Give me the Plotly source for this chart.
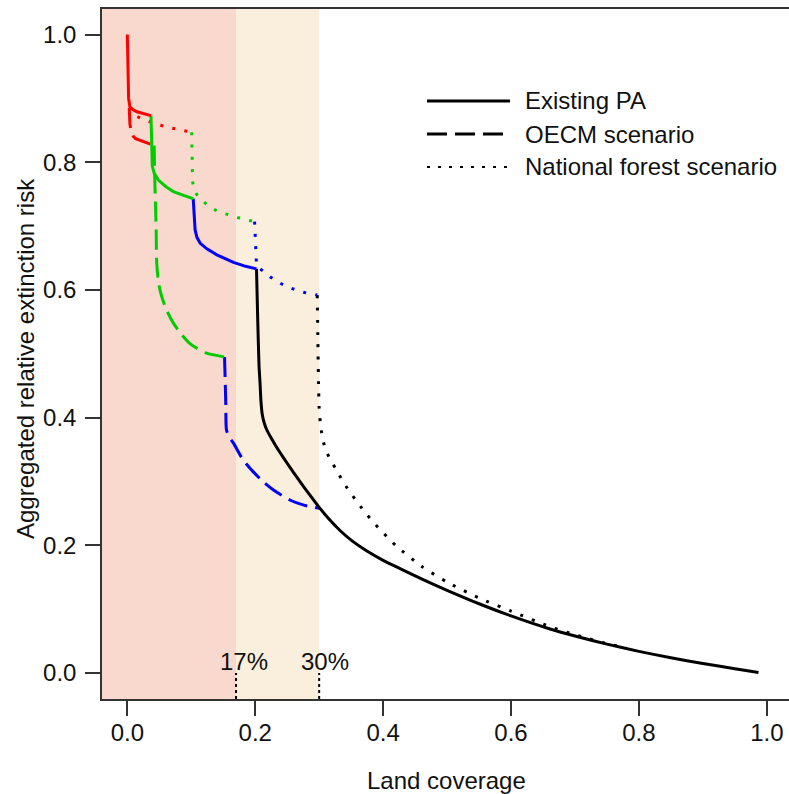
import plotly.graph_objects as go

# ---------------- data ----------------
red_solid_x = [0.0, 0.001, 0.002, 0.004, 0.008, 0.015, 0.025, 0.037]
red_solid_y = [1.0, 0.95, 0.90, 0.887, 0.883, 0.879, 0.876, 0.873]
red_dash_x = [0.003, 0.004, 0.006, 0.009, 0.013, 0.025, 0.042]
red_dash_y = [0.885, 0.86, 0.848, 0.841, 0.837, 0.832, 0.826]
red_dot_x = [0.003, 0.01, 0.025, 0.044, 0.0625, 0.081, 0.1007]
red_dot_y = [0.885, 0.874, 0.867, 0.86, 0.855, 0.851, 0.847]

green_solid_x = [0.037, 0.038, 0.038, 0.039, 0.042, 0.0485, 0.06, 0.072, 0.088, 0.103]
green_solid_y = [0.873, 0.84, 0.81, 0.794, 0.783, 0.772, 0.762, 0.754, 0.748, 0.743]
green_dash_x = [0.042, 0.043, 0.045, 0.046, 0.049, 0.054, 0.062, 0.072, 0.085, 0.098, 0.11, 0.124, 0.152]
green_dash_y = [0.826, 0.77, 0.70, 0.642, 0.61, 0.589, 0.567, 0.548, 0.53, 0.516, 0.508, 0.501, 0.495]
green_dot_x = [0.1007, 0.101, 0.102, 0.105, 0.111, 0.125, 0.142, 0.161, 0.18, 0.199]
green_dot_y = [0.847, 0.80, 0.77, 0.755, 0.746, 0.733, 0.7225, 0.717, 0.711, 0.707]

blue_solid_x = [0.103, 0.104, 0.106, 0.109, 0.114, 0.125, 0.14, 0.166, 0.185, 0.202]
blue_solid_y = [0.743, 0.72, 0.694, 0.682, 0.673, 0.664, 0.655, 0.643, 0.637, 0.633]
blue_dash_x = [0.152, 0.153, 0.154, 0.155, 0.159, 0.166, 0.181, 0.197, 0.212, 0.228, 0.254, 0.276, 0.30]
blue_dash_y = [0.495, 0.459, 0.42, 0.381, 0.37, 0.36, 0.334, 0.315, 0.30, 0.287, 0.271, 0.263, 0.258]
blue_dot_x = [0.199, 0.200, 0.201, 0.202, 0.209, 0.224, 0.24, 0.258, 0.277, 0.297]
blue_dot_y = [0.707, 0.67, 0.645, 0.638, 0.632, 0.62, 0.61, 0.602, 0.596, 0.592]

black_solid_x = [0.202, 0.204, 0.206, 0.2075, 0.209, 0.211, 0.214, 0.218, 0.225, 0.232, 0.239,
                 0.25, 0.26, 0.27, 0.285, 0.30, 0.315, 0.333, 0.352, 0.374, 0.40,
                 0.4265, 0.46, 0.5, 0.55, 0.6, 0.661, 0.7, 0.75, 0.8, 0.85, 0.9, 0.95, 0.987]
black_solid_y = [0.633, 0.55, 0.48, 0.455, 0.425, 0.405, 0.392, 0.381, 0.368, 0.356, 0.345,
                 0.3285, 0.314, 0.2999, 0.2793, 0.2595, 0.2415, 0.2228, 0.2065, 0.1915, 0.1765,
                 0.1635, 0.1475, 0.1295, 0.1085, 0.0895, 0.069, 0.0579, 0.0452, 0.0339, 0.0239,
                 0.0149, 0.0067, 0.0008]
black_dot_x = [0.297, 0.298, 0.299, 0.30, 0.302, 0.304, 0.308, 0.315, 0.325, 0.334, 0.344, 0.356,
               0.367, 0.38, 0.394, 0.407, 0.422, 0.46, 0.5, 0.55, 0.6, 0.661, 0.7, 0.75, 0.78]
black_dot_y = [0.592, 0.52, 0.454, 0.415, 0.39, 0.376, 0.357, 0.339, 0.3215, 0.3055, 0.2895, 0.2725,
               0.2578, 0.2418, 0.226, 0.2124, 0.1977, 0.1673, 0.1425, 0.1175, 0.097, 0.0725, 0.060,
               0.046, 0.040]

target_x = [0.17, 0.30]
target_labels = ["17%", "30%"]
zone_edges = [-0.05, 0.17, 0.30]

x_ticks = [0.0, 0.2, 0.4, 0.6, 0.8, 1.0]
y_ticks = [0.0, 0.2, 0.4, 0.6, 0.8, 1.0]
x_tick_labels = ["0.0", "0.2", "0.4", "0.6", "0.8", "1.0"]
y_tick_labels = ["0.0", "0.2", "0.4", "0.6", "0.8", "1.0"]

legend_labels = ["Existing PA", "OECM scenario", "National forest scenario"]
x_title = "Land coverage"
y_title = "Aggregated relative extinction risk"

# ---------------- styles ----------------
FONT = "Liberation Sans, Arial, sans-serif"
DASH = "20px,8px"
DOT = "3px,9.3px"
LW = 3
RED, GREEN, BLUE, BLACK = "#FF0000", "#00CD00", "#0000FF", "#000000"

fig = go.Figure()

def add_line(x, y, color, dash, smooth=False):
    line = dict(color=color, width=LW, dash=dash)
    if smooth:
        line.update(shape="spline", smoothing=0.7)
    fig.add_trace(go.Scatter(x=x, y=y, mode="lines", showlegend=False, hoverinfo="skip", line=line))

add_line(black_dot_x, black_dot_y, BLACK, DOT, True)
add_line(blue_dot_x, blue_dot_y, BLUE, DOT)
add_line(green_dot_x, green_dot_y, GREEN, DOT)
add_line(red_dot_x, red_dot_y, RED, DOT)
add_line(blue_dash_x, blue_dash_y, BLUE, DASH, True)
add_line(green_dash_x, green_dash_y, GREEN, DASH, True)
add_line(red_dash_x, red_dash_y, RED, DASH)
add_line(black_solid_x, black_solid_y, BLACK, "solid", True)
add_line(blue_solid_x, blue_solid_y, BLUE, "solid")
add_line(green_solid_x, green_solid_y, GREEN, "solid")
add_line(red_solid_x, red_solid_y, RED, "solid")

# target vertical dotted markers
for tx in target_x:
    fig.add_trace(go.Scatter(x=[tx, tx], y=[-0.05, 0.0], mode="lines", showlegend=False,
                             hoverinfo="skip", line=dict(color=BLACK, width=2, dash="3px,3px")))

# background zones
fig.add_shape(type="rect", xref="x", yref="paper", x0=zone_edges[0], x1=zone_edges[1], y0=0, y1=1,
              fillcolor="#F9D8CD", line_width=0, layer="below")
fig.add_shape(type="rect", xref="x", yref="paper", x0=zone_edges[1], x1=zone_edges[2], y0=0, y1=1,
              fillcolor="#FAEEDC", line_width=0, layer="below")

# target labels
for tx, lab, sh in zip(target_x, target_labels, [7.5, 6]):
    fig.add_annotation(x=tx, y=0.0177, xref="x", yref="y", text=lab, showarrow=False,
                       xshift=sh, font=dict(family=FONT, size=24, color="#111"))

# manual legend (pixel -> paper)
L, T, W, H = 102, 9, 687, 690
def px(xp):
    return (xp - L) / W
def py(yp):
    return (T + H - yp) / H

leg_y = [101, 134, 167]
leg_dash = ["solid", DASH, "3px,8px"]
leg_w = [3, 3, 2]
for yy, lab, d, w in zip(leg_y, legend_labels, leg_dash, leg_w):
    fig.add_shape(type="line", xref="paper", yref="paper", x0=px(427), x1=px(510),
                  y0=py(yy), y1=py(yy), line=dict(color=BLACK, width=w, dash=d))
    fig.add_annotation(xref="paper", yref="paper", x=px(523), y=py(yy), text=lab,
                       showarrow=False, xanchor="left", yanchor="middle",
                       font=dict(family=FONT, size=24, color="#111"))

# axis titles
fig.add_annotation(xref="paper", yref="paper", x=px(446), y=py(781), text=x_title, showarrow=False,
                   xanchor="center", yanchor="middle", font=dict(family=FONT, size=24, color="#111"))
fig.add_annotation(xref="paper", yref="paper", x=px(25), y=py(359), text=y_title, showarrow=False,
                   textangle=-90, xanchor="center", yanchor="middle",
                   font=dict(family=FONT, size=24, color="#111"))

fig.update_layout(
    width=789, height=794,
    margin=dict(l=L, r=0, t=T, b=794 - T - H, pad=0),
    paper_bgcolor="white", plot_bgcolor="white",
    font=dict(family=FONT, size=24, color="#111"),
    showlegend=False,
    xaxis=dict(range=[-0.0396, -0.0396 + 687 / 639.5], tickvals=x_ticks, ticktext=x_tick_labels,
               ticks="outside", ticklen=15, tickwidth=1.5, tickcolor="#333",
               showline=True, linecolor="#333", linewidth=1.5, mirror=True,
               showgrid=False, zeroline=False, ticklabelstandoff=-4),
    yaxis=dict(range=[-0.0407, 1.040], tickvals=y_ticks, ticktext=y_tick_labels,
               ticks="outside", ticklen=15, tickwidth=1.5, tickcolor="#333",
               showline=True, linecolor="#333", linewidth=1.5,
               showgrid=False, zeroline=False, ticklabelstandoff=4),
)

fig.write_html("out.html")
